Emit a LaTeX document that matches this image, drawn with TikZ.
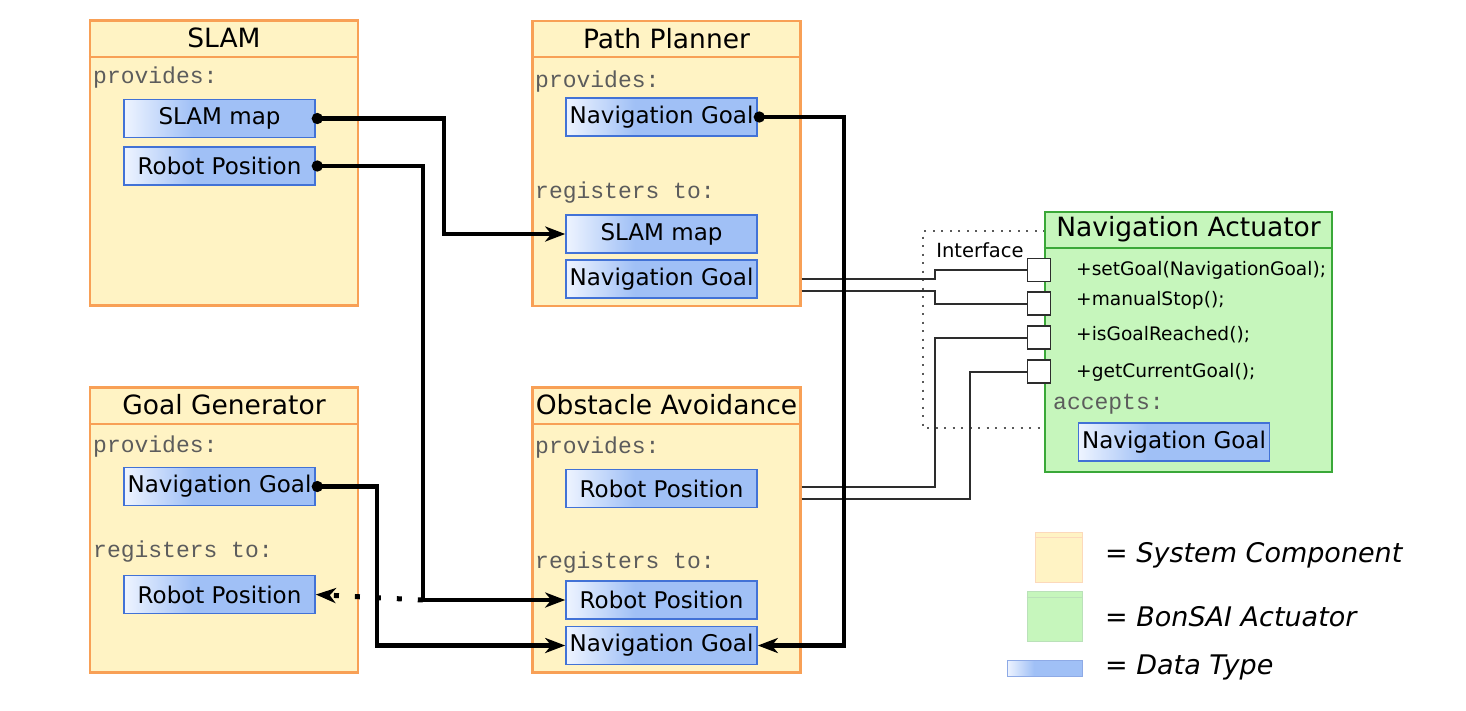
\documentclass[tikz,border=0pt]{standalone}
\usepackage{fontspec}
\setmainfont{DejaVu Sans}
\newfontfamily\codefont{Liberation Mono}
\usetikzlibrary{
  arrows.meta,
  calc,
  positioning
}
\definecolor{compfill}{RGB}{255,243,196}
\definecolor{compline}{RGB}{248,160,86}
\definecolor{actfill}{RGB}{198,246,188}
\definecolor{actline}{RGB}{58,168,56}
\definecolor{datablue}{RGB}{160,192,246}
\definecolor{datalight}{RGB}{238,244,255}
\definecolor{dataline}{RGB}{66,114,214}
\definecolor{codegray}{RGB}{92,92,92}
\definecolor{wiregray}{RGB}{45,45,45}
\pgfdeclarehorizontalshading{datashade}{100bp}{color(0bp)=(datalight); color(25bp)=(datalight); color(43bp)=(datablue); color(100bp)=(datablue)}
\tikzset{
  comp/.style={
    draw=compline,
    fill=compfill,
    line width=2.2pt,
    minimum width=268pt,
    minimum height=285pt,
    inner sep=0pt},
  act/.style={
    draw=actline,
    fill=actfill,
    line width=2.6pt,
    minimum width=287pt,
    minimum height=260pt,
    inner sep=0pt},
  title/.style={
    minimum height=37pt,
    inner sep=0pt,
    font=\fontsize{26.5}{30}\selectfont},
  sep/.style={draw=compline, line width=2pt},
  data/.style={
    draw=dataline,
    line width=1.6pt,
    shading=datashade,
    minimum width=191pt,
    minimum height=38pt,
    inner sep=0pt,
    font=\fontsize{23}{26}\selectfont},
  code/.style={
    anchor=west,
    inner sep=0pt,
    text=codegray,
    font=\codefont\fontsize{23}{26}\selectfont},
  method/.style={
    anchor=west,
    inner sep=0pt,
    font=\fontsize{18.6}{22}\selectfont},
  port/.style={
    draw=wiregray,
    fill=white,
    line width=1.5pt,
    minimum size=23pt,
    inner sep=0pt},
  conn/.style={
    line width=4.2pt,
    {Circle[length=11pt]}-{Stealth[length=20pt,width=15pt,inset=6pt]},
    shorten <=-4pt},
  dots/.style={
    line width=5pt,
    dash pattern=on 5pt off 16pt,
    -{Stealth[length=20pt,width=15pt,inset=6pt]}},
  wire/.style={draw=wiregray, line width=2pt},
  iface/.style={draw=black!65, line width=2pt, dash pattern=on 2pt off 6.5pt},
  legtext/.style={
    anchor=west,
    inner sep=0pt,
    font=\itshape\fontsize{27}{30}\selectfont}
  }

\begin{document}
\begin{tikzpicture}[x=1pt, y=-1pt]
      \path[use as bounding box, fill=white] (0,0) rectangle (1466,710);

      % system components
      \node [comp] (slam) at (224,163) {};
      \node [title, below=0pt of slam.north] (slamtitle) {SLAM};
      \draw [sep] (slamtitle.south -| slam.west) -- (slamtitle.south -| slam.east);
      \node [comp] (pp) at (666.5,163.5) {};
      \node [title, below=0pt of pp.north] (pptitle) {Path Planner};
      \draw [sep] (pptitle.south -| pp.west) -- (pptitle.south -| pp.east);
      \node [comp] (gg) at (224,530) {};
      \node [title, below=0pt of gg.north] (ggtitle) {Goal Generator};
      \draw [sep] (ggtitle.south -| gg.west) -- (ggtitle.south -| gg.east);
      \node [comp] (oa) at (666.5,530) {};
      \node [title, below=0pt of oa.north] (oatitle) {Obstacle Avoidance};
      \draw [sep] (oatitle.south -| oa.west) -- (oatitle.south -| oa.east);

      \node [code] (slamprov) at (93,78) {provides:};
      \node [code] (ppprov) at (535,82) {provides:};
      \node [code] (ppreg) at (535,193) {registers to:};
      \node [code] (ggprov) at (93,447) {provides:};
      \node [code] (ggreg) at (93,552) {registers to:};
      \node [code] (oaprov) at (535,448) {provides:};
      \node [code] (oareg) at (535,563) {registers to:};

      % data types
      \node [data] (slammap) at (219.5,118.5) {SLAM map};
      \node [data] (slampos) at (219.5,166) {Robot Position};
      \node [data] (ppgoal) at (661.5,117) {Navigation Goal};
      \node [data] (ppmap) at (661.5,234) {SLAM map};
      \node [data] (ppin) at (661.5,279) {Navigation Goal};
      \node [data] (gggoal) at (219.5,486.5) {Navigation Goal};
      \node [data] (ggpos) at (219.5,594.5) {Robot Position};
      \node [data] (oapos) at (661.5,488.5) {Robot Position};
      \node [data] (oainpos) at (661.5,600) {Robot Position};
      \node [data] (oaingoal) at (661.5,645.5) {Navigation Goal};

      % actuator
      \draw [iface] (1045,231) -- (923,231) -- (923,428) -- (1045,428);
      \node [font=\fontsize{19.5}{22}\selectfont] (iflabel) at (980,250) {Interface};
      \node [act] (na) at (1188.5,342) {};
      \node [title, below=0pt of na.north] (natitle) {Navigation Actuator};
      \draw [sep, draw=actline] (natitle.south -| na.west) -- (natitle.south -| na.east);
      \node [method] (m1) at (1076,270) {+setGoal(NavigationGoal);};
      \node [method] (m2) at (1076,300) {+manualStop();};
      \node [method] (m3) at (1076,335) {+isGoalReached();};
      \node [method] (m4) at (1076,372) {+getCurrentGoal();};
      \node [code] (naacc) at (1053,404) {accepts:};
      \node [data] (nagoal) at (1174,442) {Navigation Goal};

      \draw [wire] (ppin.east -| pp.east) -- ++(133,0) |- (1030,270);
      \draw [wire] ([yshift=-12pt]ppin.east -| pp.east) -- ++(133,0) |- (1030,303.5);
      \draw [wire] ([yshift=2pt]oapos.east -| oa.east) -- ++(133,0) |- (1030,337.5);
      \draw [wire] ([yshift=-10pt]oapos.east -| oa.east) -- ++(168,0) |- (1030,371.5);
      \node [port] (p1) at (1039,270) {};
      \node [port] (p2) at (1039,303.5) {};
      \node [port] (p3) at (1039,337.5) {};
      \node [port] (p4) at (1039,371.5) {};

      % connections
      \coordinate (split) at ($(slampos.east |- oainpos.west)+(107,0)$);
      \draw [conn] (slammap.east) -- ++(128,0) |- (ppmap.west);
      \draw [conn] (slampos.east) -- ++(107,0) |- (oainpos.west);
      \draw [dots] (split) -- (ggpos.east);
      \draw [conn] (gggoal.east) -- ++(61,0) |- (oaingoal.west);
      \draw [conn] (ppgoal.east) -- ++(86,0) |- (oaingoal.east);

      % legend
      \node [draw=compline!40, fill=compfill, line width=1pt, minimum width=47pt, minimum height=50pt, inner sep=0pt] (legcomp) at (1058.5,557) {};
      \draw [draw=compline!40, line width=1pt] (legcomp.north west) ++(0,6) -- ++(47,0);
      \node [draw=actline!35, fill=actfill, line width=1pt, minimum width=55pt, minimum height=50pt, inner sep=0pt] (legact) at (1054.5,616) {};
      \draw [draw=actline!35, line width=1pt] (legact.north west) ++(0,7) -- ++(55,0);
      \node [draw=dataline!60, shading=datashade, line width=1pt, minimum width=75pt, minimum height=16pt, inner sep=0pt] (legdata) at (1044.5,668) {};
      \node [legtext] (legcomptext) at (1105,555) {= System Component};
      \node [legtext] (legacttext) at (1105,617) {= BonSAI Actuator};
      \node [legtext] (legdatatext) at (1105,667) {= Data Type};
    \end{tikzpicture}
\end{document}
